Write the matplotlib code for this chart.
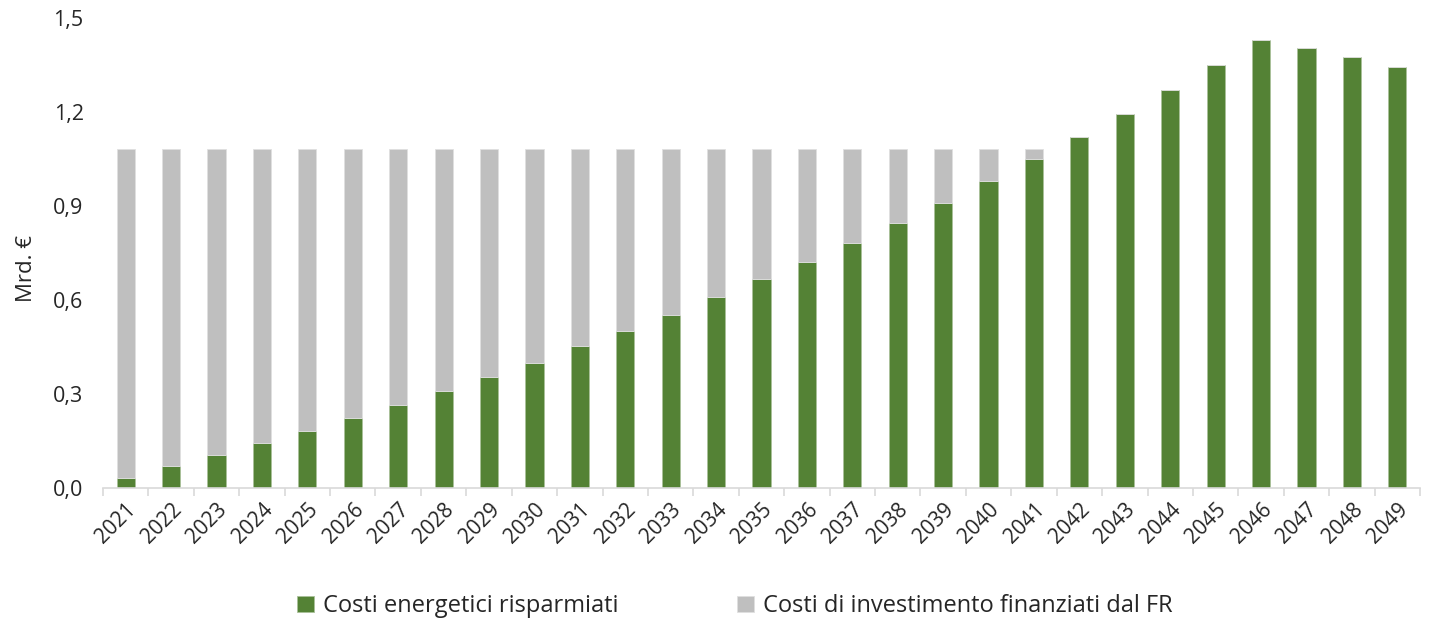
import numpy as np
import matplotlib.pyplot as plt

years = [str(y) for y in range(2021, 2050)]
risparmiati = [0.032, 0.070, 0.105, 0.144, 0.182, 0.223, 0.265, 0.310, 0.354, 0.399,
               0.453, 0.501, 0.552, 0.610, 0.667, 0.721, 0.782, 0.846, 0.910, 0.980,
               1.050, 1.120, 1.194, 1.270, 1.350, 1.430, 1.404, 1.376, 1.344]
totale_fr = 1.082
investimento = [max(totale_fr - v, 0) if i <= 20 else 0 for i, v in enumerate(risparmiati)]
yticks = [0.0, 0.3, 0.6, 0.9, 1.2, 1.5]

GREEN = '#548235'
GREY = '#bfbfbf'
TXT = '#262626'

plt.rcParams['font.family'] = ['Open Sans', 'DejaVu Sans']

fig = plt.figure(figsize=(14.3, 6.24), dpi=100)
ax = fig.add_axes([103 / 1430, 1 - 488 / 624, (1420 - 103) / 1430, (488 - 18) / 624])

x = np.arange(len(years))
ax.bar(x, risparmiati, 0.4, color=GREEN, edgecolor='#a9c19a', linewidth=0.6,
       label='Costi energetici risparmiati', zorder=2)
ax.bar(x, investimento, 0.4, bottom=risparmiati, color=GREY, edgecolor='#e0e0e0',
       linewidth=0.6, label='Costi di investimento finanziati dal FR', zorder=2)

ax.set_xlim(-0.5, len(years) - 0.5)
ax.set_ylim(0, 1.5)
ax.set_yticks(yticks)
ax.set_yticklabels([f'{v:.1f}'.replace('.', ',') for v in yticks], fontsize=15.5, color=TXT)
ax.tick_params(axis='y', length=0, pad=14)

ax.set_xticks(x)
ax.set_xticklabels(years, rotation=45, ha='right', va='top', rotation_mode='anchor',
                   fontsize=15, color=TXT)
ax.tick_params(axis='x', which='major', length=0, pad=8)
ax.set_xticks(np.arange(-0.5, len(years)), minor=True)
ax.tick_params(axis='x', which='minor', length=6, color='#d9d9d9', width=1.2)

for s in ['top', 'right', 'left']:
    ax.spines[s].set_visible(False)
ax.spines['bottom'].set_color('#d9d9d9')
ax.spines['bottom'].set_linewidth(1.2)

ax.set_ylabel('Mrd. €', fontsize=16, color=TXT)
ax.yaxis.set_label_coords(-0.050, 0.466)

leg = fig.legend(loc='lower center', bbox_to_anchor=(0.514, -0.025), ncol=2, frameon=False,
                 fontsize=17, handlelength=0.7, handleheight=0.7, handletextpad=0.4,
                 columnspacing=5.0)
for t in leg.get_texts():
    t.set_color(TXT)

fig.savefig('out.png', dpi=100)
